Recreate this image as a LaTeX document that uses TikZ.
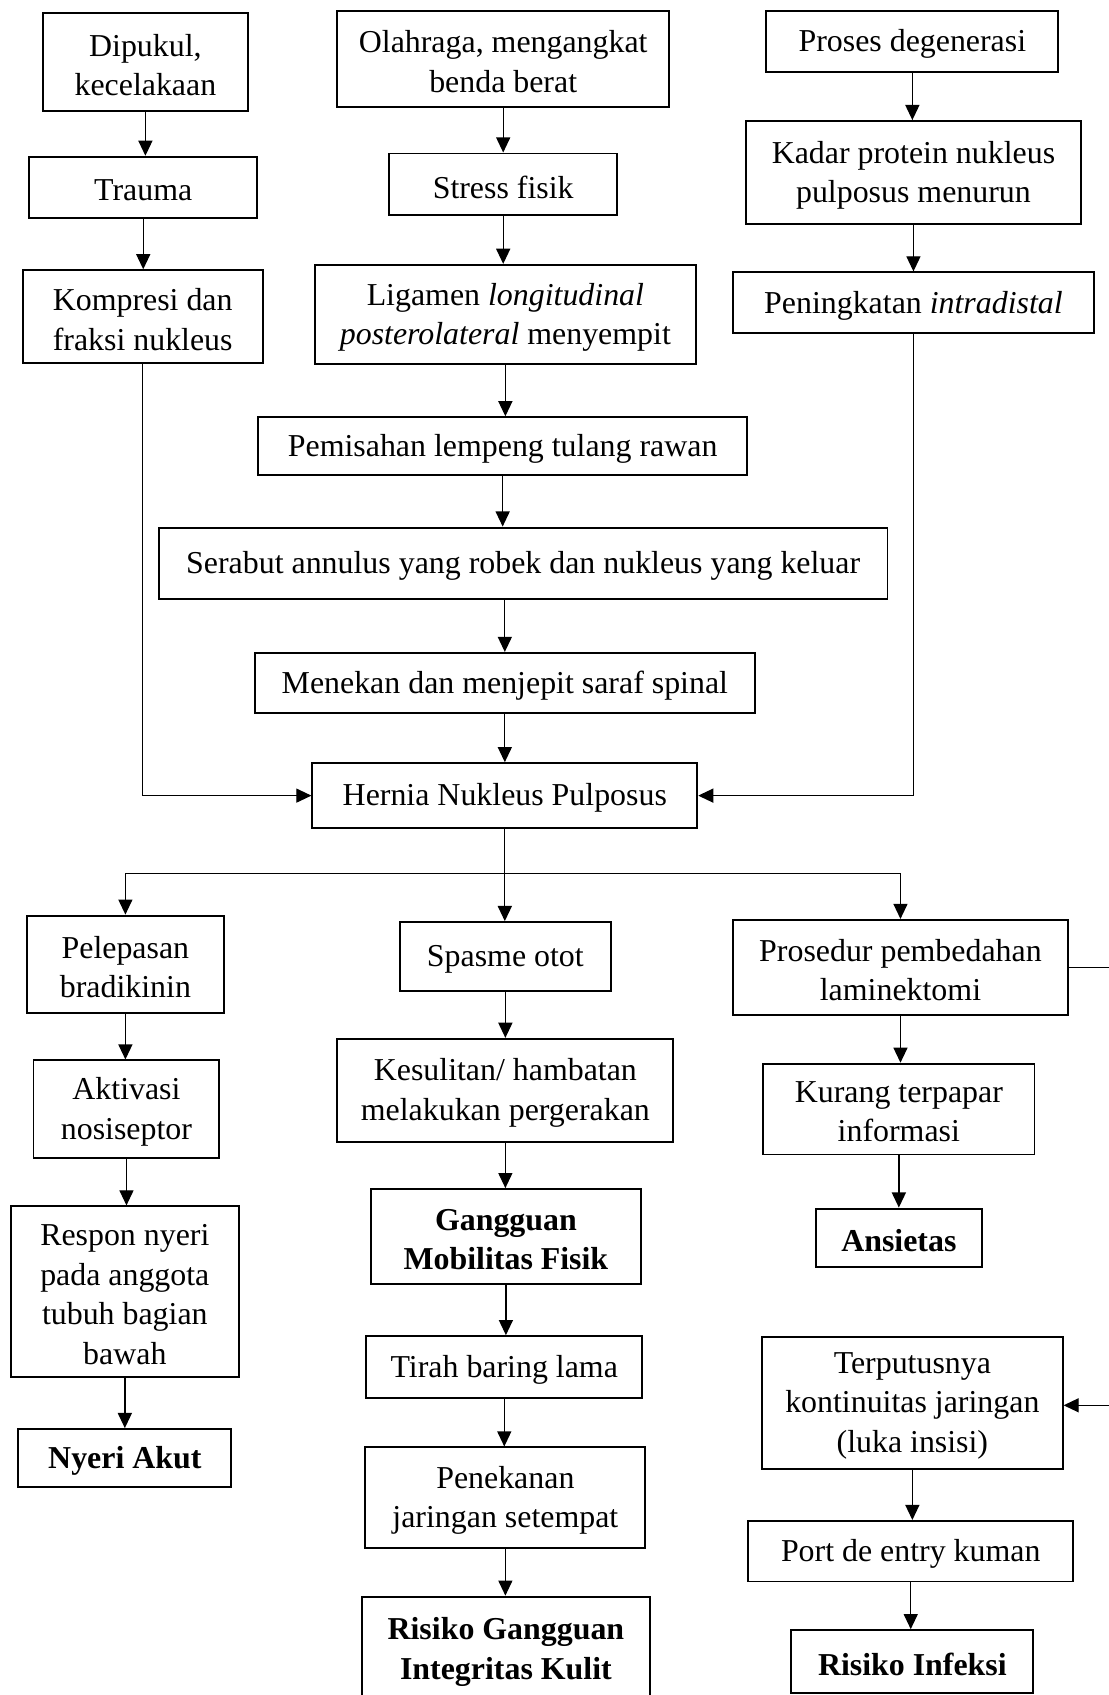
\documentclass[tikz,border=0pt]{standalone}
\usepackage{fontspec}
\setmainfont{Liberation Serif}
\usetikzlibrary{arrows.meta,calc}
\tikzset{
  box/.style={draw,line width=1.8pt,inner sep=0pt},
  txt/.style={inner sep=0pt,align=center,font=\fontsize{29.5}{36.5}\selectfont},
  btxt/.style={txt,font=\fontsize{29.5}{36.5}\selectfont\bfseries},
  conn/.style={line width=1.2pt},
  arr/.style={conn,-{Triangle[length=14pt,width=13pt]}}
}
\newcommand\mkbox[7][txt]{%
  \pgfmathsetmacro\cx{(#3+#5)/2}\pgfmathsetmacro\cy{(#4+#6)/2}%
  \pgfmathsetmacro\bw{#5-#3}\pgfmathsetmacro\bh{#6-#4}%
  \node[box,minimum width=\bw pt,minimum height=\bh pt] (#2) at (\cx,\cy) {};
  \node[#1] (#2-t) at ($(#2.center)+(0,2.5)$) {#7};}
\begin{document}
\begin{tikzpicture}[x=1pt,y=-1pt]
\useasboundingbox[fill=white] (0,0) rectangle (1025,1568);
% column 1 top
\mkbox{dip}{40}{12}{229}{103}{Dipukul,\\kecelakaan}
\mkbox{trauma}{27}{145}{238}{202}{Trauma}
\mkbox{komp}{21}{250}{243}{336}{Kompresi dan\\fraksi nukleus}
% column 2 top
\mkbox{olah}{312}{10}{619}{99}{Olahraga, mengangkat\\benda berat}
\mkbox{stress}{360}{142}{571}{199}{Stress fisik}
\mkbox{lig}{291}{245}{644}{337}{Ligamen \textit{longitudinal}\\\textit{posterolateral} menyempit}
\mkbox{pem}{239}{386}{691}{439}{Pemisahan lempeng tulang rawan}
\mkbox{ser}{147}{488}{821}{554}{Serabut annulus yang robek dan nukleus yang keluar}
\mkbox{men}{236}{604}{698}{660}{Menekan dan menjepit saraf spinal}
\mkbox{hnp}{289}{706}{645}{766}{Hernia Nukleus Pulposus}
% column 3 top
\mkbox{pros}{709}{10}{979}{67}{Proses degenerasi}
\mkbox{kadar}{690}{112}{1000}{207}{Kadar protein nukleus\\pulposus menurun}
\mkbox{ping}{678}{252}{1012}{308}{Peningkatan \textit{intradistal}}
% bottom left
\mkbox{pel}{25}{847}{207}{937}{Pelepasan\\bradikinin}
\mkbox{akt}{31}{981}{203}{1071}{Aktivasi\\nosiseptor}
\mkbox{resp}{10}{1116}{221}{1274}{Respon nyeri\\pada anggota\\tubuh bagian\\bawah}
\mkbox[btxt]{nyeri}{17}{1322}{214}{1376}{Nyeri Akut}
% bottom middle
\mkbox{spas}{370}{853}{565}{917}{Spasme otot}
\mkbox{kes}{312}{961}{623}{1056}{Kesulitan/ hambatan\\melakukan pergerakan}
\mkbox[btxt]{gmf}{343}{1100}{593}{1188}{Gangguan\\Mobilitas Fisik}
\mkbox{tirah}{339}{1236}{594}{1293}{Tirah baring lama}
\mkbox{penek}{338}{1339}{597}{1432}{Penekanan\\jaringan setempat}
\mkbox[btxt]{rgik}{335}{1477}{601}{1574}{Risiko Gangguan\\Integritas Kulit}
% bottom right
\mkbox{lam}{678}{851}{988}{939}{Prosedur pembedahan\\laminektomi}
\mkbox{kur}{706}{984}{957}{1068}{Kurang terpapar\\informasi}
\mkbox[btxt]{ans}{755}{1118}{908}{1172}{Ansietas}
\mkbox{terp}{705}{1237}{983}{1359}{Terputusnya\\kontinuitas jaringan\\(luka insisi)}
\mkbox{port}{692}{1407}{993}{1463}{Port de entry kuman}
\mkbox[btxt]{rinf}{732}{1508}{956}{1566}{Risiko Infeksi}
% connectors top
\draw[arr] (dip.south) -- (dip.south |- trauma.north);
\draw[arr] (trauma.south) -- (trauma.south |- komp.north);
\draw[arr] (olah.south) -- (olah.south |- stress.north);
\draw[arr] (stress.south) -- (stress.south |- lig.north);
\draw[arr] (lig.south) -- (lig.south |- pem.north);
\draw[arr] (pem.south) -- (pem.south |- ser.north);
\draw[arr] (men.north |- ser.south) -- (men.north);
\draw[arr] (men.south) -- (men.south |- hnp.north);
\draw[arr] (pros.south) -- (pros.south |- kadar.north);
\draw[arr] (kadar.south) -- (kadar.south |- ping.north);
\draw[arr] (komp.south) |- (hnp.west);
\draw[arr] (ping.south) |- (hnp.east);
% branch
\coordinate (br) at (466,808);
\draw[arr] (hnp.south) -- (hnp.south |- spas.north);
\draw[arr] (br) -| (pel.north);
\draw[arr] (br) -| (lam.north);
% bottom left
\draw[arr] (pel.south) -- (pel.south |- akt.north);
\draw[arr] (akt.south) -- (akt.south |- resp.north);
\draw[arr] (resp.south) -- (resp.south |- nyeri.north);
% bottom middle
\draw[arr] (spas.south) -- (spas.south |- kes.north);
\draw[arr] (kes.south) -- (kes.south |- gmf.north);
\draw[arr] (gmf.south) -- (gmf.south |- tirah.north);
\draw[arr] (tirah.south) -- (tirah.south |- penek.north);
\draw[arr] (penek.south) -- (penek.south |- rgik.north);
% bottom right
\draw[arr] (lam.south) -- (lam.south |- kur.north);
\draw[arr] (kur.south) -- (kur.south |- ans.north);
\draw[arr] (terp.south) -- (terp.south |- port.north);
\draw[arr] (port.south) -- (port.south |- rinf.north);
\coordinate (redge) at (1030,0);
\draw[conn] (lam.east) -- (lam.east -| redge);
\draw[arr] ($(terp.east -| redge)+(0,2)$) -- ($(terp.east)+(0,2)$);
\end{tikzpicture}
\end{document}
